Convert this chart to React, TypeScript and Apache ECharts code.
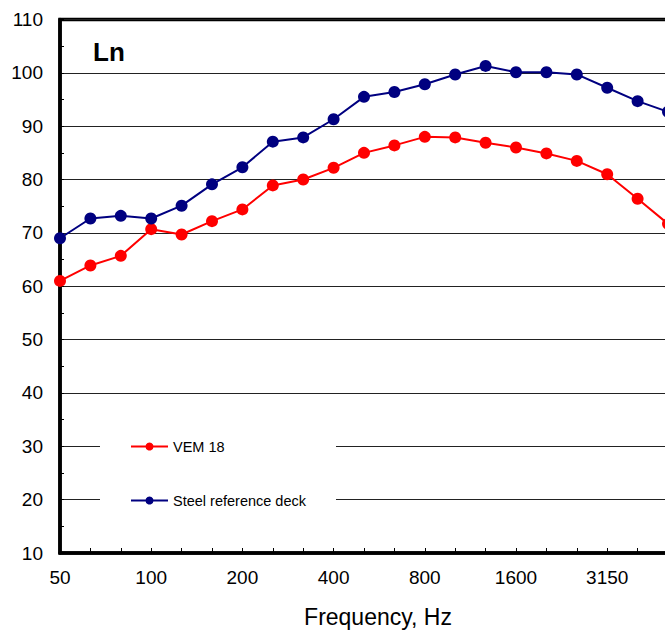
import React, { useEffect, useRef } from "react";
import * as echarts from "echarts";

const frequencies = [
  "50", "63", "80", "100", "125", "160", "200", "250", "315", "400", "500",
  "630", "800", "1000", "1250", "1600", "2000", "2500", "3150", "4000", "5000",
];
const vem18 = [
  61.0, 63.9, 65.7, 70.7, 69.7, 72.2, 74.4, 78.9, 80.0, 82.2, 85.0,
  86.4, 88.0, 87.9, 86.9, 86.0, 84.9, 83.5, 81.0, 76.4, 71.7,
];
const steelReference = [
  69.0, 72.7, 73.2, 72.7, 75.1, 79.1, 82.3, 87.1, 87.9, 91.3, 95.5,
  96.4, 97.85, 99.7, 101.3, 100.1, 100.1, 99.7, 97.2, 94.7, 92.7,
];
const seriesNames = ["VEM 18", "Steel reference deck"];
const yMin = 10;
const yMax = 110;
const yStep = 10;

const FONT = "'Liberation Sans', Arial, sans-serif";

export default function App() {
  const ref = useRef<HTMLDivElement>(null);
  useEffect(() => {
    if (!ref.current) return;
    const chart = echarts.init(ref.current, undefined, { renderer: "svg" });
    chart.setOption({
      animation: false,
      backgroundColor: "#fff",
      textStyle: { fontFamily: FONT },
      title: {
        text: "Ln",
        left: 88,
        top: 34,
        textStyle: { fontSize: 26, fontWeight: "bold", color: "#000", fontFamily: FONT },
      },
      grid: {
        left: 60,
        top: 19.5,
        right: -3,
        bottom: 78,
        outerBoundsMode: "none",
        containLabel: false,
        show: true,
        borderWidth: 3.5,
        borderColor: "#000",
        backgroundColor: "transparent",
      },
      legend: {
        orient: "vertical",
        left: 100,
        top: 424,
        data: seriesNames,
        backgroundColor: "#fff",
        padding: [15, 30, 15, 30],
        itemWidth: 37,
        itemHeight: 10,
        itemGap: 39,
        textStyle: { fontSize: 14.5, color: "#000", fontFamily: FONT },
      },
      xAxis: {
        type: "category",
        data: frequencies,
        boundaryGap: false,
        axisLine: { lineStyle: { color: "#000", width: 3.5 } },
        axisTick: { show: true, inside: true, length: 5, interval: 0, lineStyle: { color: "#000", width: 1 } },
        axisLabel: { interval: 2, fontSize: 19, color: "#000", margin: 15, fontFamily: FONT },
        splitLine: { show: false },
        name: "Frequency, Hz",
        nameLocation: "middle",
        nameGap: 52,
        nameTextStyle: { fontSize: 23, color: "#000", fontFamily: FONT, padding: [0, 0, 0, 28] },
      },
      yAxis: {
        type: "value",
        min: yMin,
        max: yMax,
        interval: yStep,
        axisLine: { show: true, lineStyle: { color: "#000", width: 3.5 } },
        axisTick: { show: true, inside: true, length: 4, lineStyle: { color: "#000" } },
        minorTick: { show: true, splitNumber: 2, length: 4, lineStyle: { color: "#000" } },
        axisLabel: { fontSize: 19, color: "#000", margin: 17, fontFamily: FONT },
        splitLine: { show: true, lineStyle: { color: "#222", width: 1 } },
      },
      series: [
        {
          name: seriesNames[0],
          type: "line",
          data: vem18,
          symbol: "circle",
          symbolSize: 12,
          lineStyle: { color: "#ff0000", width: 2 },
          itemStyle: { color: "#ff0000" },
          z: 3,
        },
        {
          name: seriesNames[1],
          type: "line",
          data: steelReference,
          symbol: "circle",
          symbolSize: 12,
          lineStyle: { color: "#000080", width: 2 },
          itemStyle: { color: "#000080" },
          z: 3,
        },
      ],
    });
    return () => chart.dispose();
  }, []);
  return (
    <div
      ref={ref}
      style={{ position: "fixed", left: 0, top: 0, width: 665, height: 631, background: "#fff" }}
    />
  );
}
